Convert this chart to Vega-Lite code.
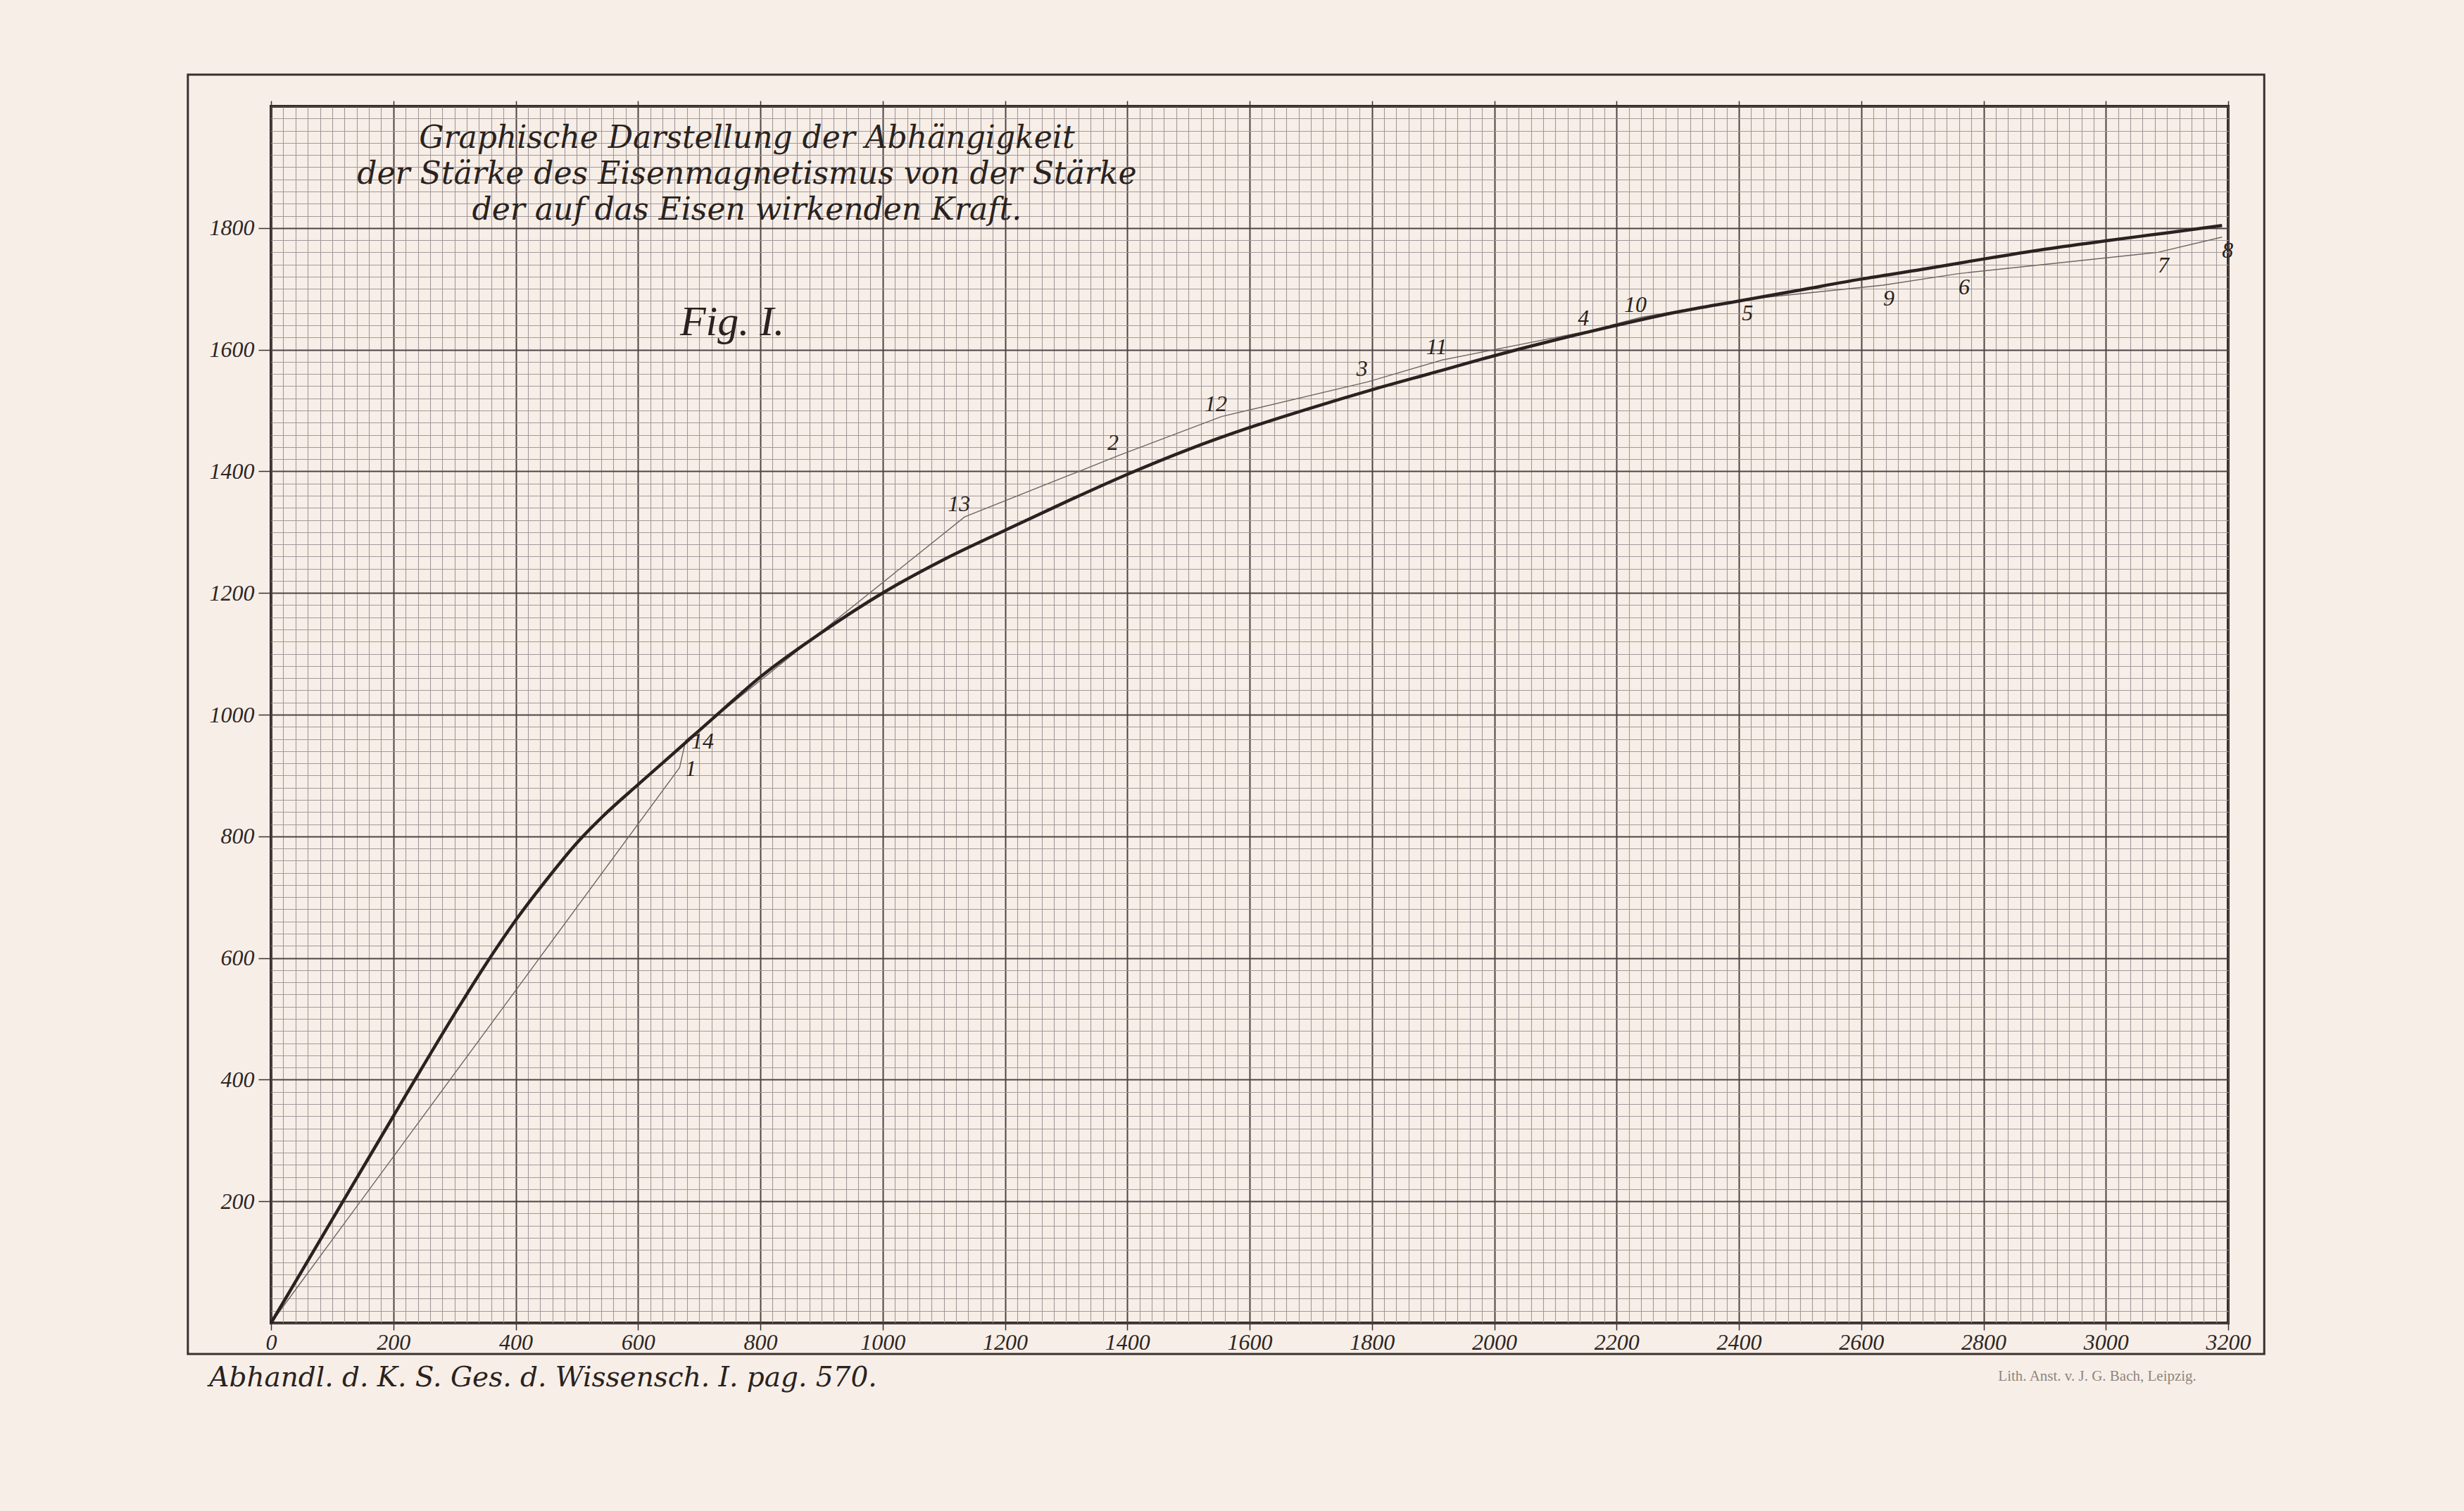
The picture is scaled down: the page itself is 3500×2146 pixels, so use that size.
{
  "$schema": "https://vega.github.io/schema/vega-lite/v6.json",
  "width": 2780,
  "height": 1728,
  "autosize": {"type": "none"},
  "padding": {"left": 385, "top": 151, "right": 335, "bottom": 267},
  "background": "#f7efe7",
  "datasets": {
    "curve": [
      {"f": 0, "m": 0}, {"f": 100, "m": 170}, {"f": 200, "m": 340}, {"f": 300, "m": 508},
      {"f": 350, "m": 588}, {"f": 400, "m": 662}, {"f": 450, "m": 728}, {"f": 500, "m": 789},
      {"f": 550, "m": 840}, {"f": 600, "m": 885}, {"f": 670, "m": 947}, {"f": 735, "m": 1005},
      {"f": 800, "m": 1062}, {"f": 900, "m": 1135}, {"f": 1000, "m": 1200}, {"f": 1100, "m": 1255},
      {"f": 1200, "m": 1303}, {"f": 1300, "m": 1350}, {"f": 1400, "m": 1395}, {"f": 1500, "m": 1436},
      {"f": 1600, "m": 1472}, {"f": 1700, "m": 1504}, {"f": 1800, "m": 1534}, {"f": 1900, "m": 1562},
      {"f": 2000, "m": 1590}, {"f": 2100, "m": 1616}, {"f": 2200, "m": 1640}, {"f": 2300, "m": 1662},
      {"f": 2400, "m": 1680}, {"f": 2500, "m": 1698}, {"f": 2600, "m": 1716}, {"f": 2700, "m": 1732},
      {"f": 2800, "m": 1749}, {"f": 2900, "m": 1765}, {"f": 3000, "m": 1779}, {"f": 3100, "m": 1792},
      {"f": 3190, "m": 1804}
    ],
    "obs": [
      {"n": "0", "f": 0, "m": 0},
      {"n": "1", "f": 668, "m": 913},
      {"n": "14", "f": 678, "m": 958},
      {"n": "13", "f": 1134, "m": 1325},
      {"n": "2", "f": 1386, "m": 1426},
      {"n": "12", "f": 1554, "m": 1490},
      {"n": "3", "f": 1793, "m": 1547},
      {"n": "11", "f": 1915, "m": 1583},
      {"n": "4", "f": 2155, "m": 1631},
      {"n": "10", "f": 2240, "m": 1653},
      {"n": "5", "f": 2405, "m": 1682},
      {"n": "9", "f": 2636, "m": 1706},
      {"n": "6", "f": 2759, "m": 1725},
      {"n": "7", "f": 3085, "m": 1760},
      {"n": "8", "f": 3190, "m": 1785}
    ]
  },
  "resolve": {"axis": {"x": "independent", "y": "independent"}},
  "layer": [
    {
      "data": {"values": [{}]},
      "mark": {"type": "rect", "fill": null, "stroke": "#3a3030", "strokeWidth": 3},
      "encoding": {
        "x": {"datum": -136, "type": "quantitative", "axis": null},
        "x2": {"datum": 3259},
        "y": {"datum": -51, "type": "quantitative", "axis": null},
        "y2": {"datum": 2052}
      }
    },
    {
      "data": {"name": "obs"},
      "mark": {"type": "line", "color": "#6e6462", "strokeWidth": 1.4},
      "encoding": {
        "x": {"field": "f", "type": "quantitative",
          "axis": {"orient": "top", "values": [0,200,400,600,800,1000,1200,1400,1600,1800,2000,2200,2400,2600,2800,3000,3200],
            "grid": false, "labels": false, "domain": false, "ticks": true, "tickSize": 8, "tickColor": "#3a3030", "tickWidth": 1.5, "title": null}},
        "y": {"field": "m", "type": "quantitative", "axis": null}
      }
    },
    {
      "data": {"name": "curve"},
      "mark": {"type": "line", "color": "#2a2220", "strokeWidth": 4.5, "interpolate": "monotone"},
      "encoding": {
        "x": {"field": "f", "type": "quantitative", "title": null,
          "scale": {"domain": [0, 3200], "nice": false, "zero": false},
          "axis": {"orient": "bottom", "tickCount": 160, "format": "d", "domain": false,
            "labelExpr": "datum.value % 200 === 0 ? datum.label : ''",
            "labelOverlap": false, "labelFlush": false,
            "labelFont": "Liberation Serif", "labelFontStyle": "italic", "labelFontSize": 32, "labelColor": "#2e2626",
            "labelPadding": 2, "tickSize": 10, "tickColor": "#3a3030", "tickWidth": 1.5,
            "tickOpacity": {"condition": {"test": "datum.value % 200 === 0", "value": 1}, "value": 0},
            "grid": true,
            "gridColor": {"condition": {"test": "datum.value % 200 === 0", "value": "#4e4444"}, "value": "#a3989a"},
            "gridWidth": {"condition": {"test": "datum.value % 200 === 0", "value": 2}, "value": 1.1}}},
        "y": {"field": "m", "type": "quantitative", "title": null,
          "scale": {"domain": [0, 2000], "nice": false, "zero": false},
          "axis": {"orient": "left", "tickCount": 100, "format": "d", "domain": false,
            "labelExpr": "datum.value % 200 === 0 && datum.value > 0 && datum.value < 2000 ? datum.label : ''",
            "labelOverlap": false, "labelFlush": false,
            "labelFont": "Liberation Serif", "labelFontStyle": "italic", "labelFontSize": 32, "labelColor": "#2e2626",
            "labelPadding": 6, "tickSize": 18, "tickColor": "#3a3030", "tickWidth": 1.5,
            "tickOpacity": {"condition": {"test": "datum.value % 200 === 0 && datum.value > 0 && datum.value < 2000", "value": 1}, "value": 0},
            "grid": true,
            "gridColor": {"condition": {"test": "datum.value % 200 === 0", "value": "#4e4444"}, "value": "#a3989a"},
            "gridWidth": {"condition": {"test": "datum.value % 200 === 0", "value": 2}, "value": 1.1}}}
      }
    },
    {
      "data": {"name": "obs"},
      "transform": [{"filter": {"field": "n", "oneOf": ["13", "2", "12", "3", "11", "4", "10"]}}],
      "mark": {"type": "text", "font": "Liberation Serif", "fontStyle": "italic", "fontSize": 32, "color": "#2a2220", "align": "center", "baseline": "bottom", "dx": -8, "dy": -1},
      "encoding": {
        "x": {"field": "f", "type": "quantitative", "axis": null},
        "y": {"field": "m", "type": "quantitative", "axis": null},
        "text": {"field": "n"}
      }
    },
    {
      "data": {"name": "obs"},
      "transform": [{"filter": {"field": "n", "oneOf": ["5", "9", "6", "7", "8"]}}],
      "mark": {"type": "text", "font": "Liberation Serif", "fontStyle": "italic", "fontSize": 32, "color": "#2a2220", "align": "center", "baseline": "top", "dx": 8, "dy": 4},
      "encoding": {
        "x": {"field": "f", "type": "quantitative", "axis": null},
        "y": {"field": "m", "type": "quantitative", "axis": null},
        "text": {"field": "n"}
      }
    },
    {
      "data": {"name": "obs"},
      "transform": [{"filter": {"field": "n", "oneOf": ["1", "14"]}}],
      "mark": {"type": "text", "font": "Liberation Serif", "fontStyle": "italic", "fontSize": 32, "color": "#2a2220", "align": "left", "baseline": "middle", "dx": 8, "dy": 2},
      "encoding": {
        "x": {"field": "f", "type": "quantitative", "axis": null},
        "y": {"field": "m", "type": "quantitative", "axis": null},
        "text": {"field": "n"}
      }
    },
    {
      "data": {"values": [{}]},
      "mark": {"type": "text", "font": "DejaVu Serif", "fontStyle": "italic", "fontSize": 44, "color": "#2a2220", "align": "center", "baseline": "middle", "lineHeight": 51,
        "text": ["Graphische Darstellung der Abhängigkeit", "der Stärke des Eisenmagnetismus von der Stärke", "der auf das Eisen wirkenden Kraft."]},
      "encoding": {
        "x": {"datum": 778, "type": "quantitative", "axis": null},
        "y": {"datum": 1947, "type": "quantitative", "axis": null}
      }
    },
    {
      "data": {"values": [{}]},
      "mark": {"type": "text", "font": "Liberation Serif", "fontStyle": "italic", "fontSize": 60, "color": "#2a2220", "align": "center", "baseline": "alphabetic", "text": "Fig. I."},
      "encoding": {
        "x": {"datum": 754, "type": "quantitative", "axis": null},
        "y": {"datum": 1624, "type": "quantitative", "axis": null}
      }
    },
    {
      "data": {"values": [{}]},
      "mark": {"type": "text", "font": "DejaVu Serif", "fontStyle": "italic", "fontSize": 39, "color": "#2a2220", "align": "left", "baseline": "alphabetic", "text": "Abhandl. d. K. S. Ges. d. Wissensch. I. pag. 570."},
      "encoding": {
        "x": {"datum": -101, "type": "quantitative", "axis": null},
        "y": {"datum": -104, "type": "quantitative", "axis": null}
      }
    },
    {
      "data": {"values": [{}]},
      "mark": {"type": "text", "font": "Liberation Serif", "fontSize": 21, "color": "#8e8580", "align": "left", "baseline": "alphabetic", "text": "Lith. Anst. v. J. G. Bach, Leipzig."},
      "encoding": {
        "x": {"datum": 2824, "type": "quantitative", "axis": null},
        "y": {"datum": -95, "type": "quantitative", "axis": null}
      }
    }
  ],
  "config": {
    "view": {"stroke": "#2e2626", "strokeWidth": 4, "fill": null},
    "font": "Liberation Serif"
  }
}
